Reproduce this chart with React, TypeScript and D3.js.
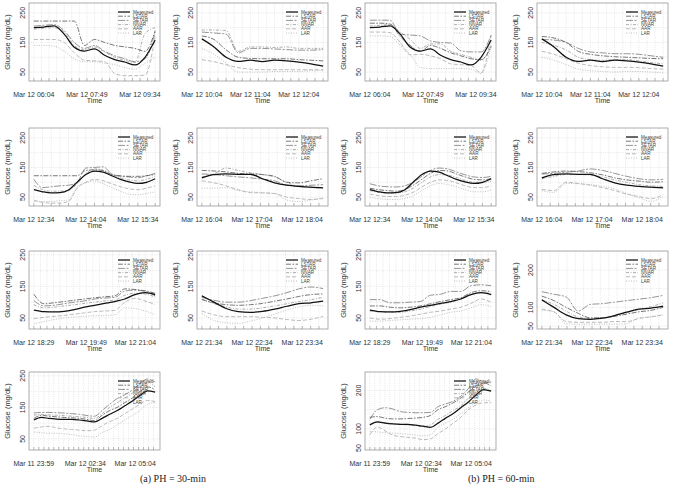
import * as d3 from "d3";

const seriesNames = ["Measured", "LSTAR", "SETAR", "NNAR", "AAR", "LAR"];

// time windows, minutes from window start
const windowDurations = [240, 150, 210, 145, 185, 145, 365];
const windowTickMinutes = [
  [0, 105, 210],
  [0, 60, 120],
  [0, 90, 180],
  [0, 60, 120],
  [0, 80, 155],
  [0, 60, 120],
  [0, 155, 305],
];
const windowTickLabels = [
  ["Mar 12 06:04", "Mar 12 07:49", "Mar 12 09:34"],
  ["Mar 12 10:04", "Mar 12 11:04", "Mar 12 12:04"],
  ["Mar 12 12:34", "Mar 12 14:04", "Mar 12 15:34"],
  ["Mar 12 16:04", "Mar 12 17:04", "Mar 12 18:04"],
  ["Mar 12 18:29", "Mar 12 19:49", "Mar 12 21:04"],
  ["Mar 12 21:34", "Mar 12 22:34", "Mar 12 23:34"],
  ["Mar 11 23:59", "Mar 12 02:34", "Mar 12 05:04"],
];
const windowMinorStep = [15, 10, 15, 10, 10, 10, 15];

// measured glucose (same for both horizons)
const measured1 = [200, 202, 206, 178, 134, 121, 128, 107, 92, 84, 74, 100, 158];
const measured2 = [162, 135, 100, 86, 90, 85, 90, 88, 84, 78, 70];
const measured3 = [75, 68, 64, 65, 74, 100, 126, 138, 134, 122, 110, 101, 96, 100, 112];
const measured4 = [115, 126, 128, 127, 127, 112, 98, 90, 86, 84, 81];
const measured5 = [75, 70, 69, 71, 76, 84, 90, 96, 102, 110, 124, 130, 124];
const measured6 = [120, 100, 80, 70, 68, 71, 78, 87, 95, 98, 103];
const measured7 = [110, 118, 115, 113, 112, 112, 110, 107, 104, 115, 128, 140, 155, 170, 188, 202, 198];

// PH = 30-min predictions
const lstar30_1 = [222, 222, 222, 222, 222, 140, 160, 150, 140, 135, 130, 120, 190];
const setar30_1 = [205, 208, 210, 190, 150, 130, 140, 120, 105, 95, 85, 95, 185];
const nnar30_1 = [195, 198, 200, 185, 140, 125, 135, 118, 100, 90, 82, 180, 200];
const aar30_1 = [160, 160, 160, 150, 115, 90, 88, 85, 45, 38, 38, 40, 170];
const lar30_1 = [140, 140, 138, 120, 95, 85, 85, 80, 75, 65, 60, 80, 100];

const lstar30_2 = [172, 160, 125, 100, 96, 95, 95, 95, 92, 90, 88];
const setar30_2 = [185, 182, 178, 115, 130, 130, 128, 126, 124, 124, 126];
const nnar30_2 = [192, 192, 190, 120, 135, 135, 133, 135, 130, 130, 130];
const aar30_2 = [92, 85, 75, 65, 60, 58, 58, 58, 58, 58, 58];
const lar30_2 = [130, 110, 80, 50, 50, 50, 52, 52, 52, 55, 55];

const lstar30_3 = [122, 122, 122, 122, 122, 122, 140, 142, 140, 126, 122, 120, 120, 122, 126];
const setar30_3 = [110, 82, 85, 88, 90, 100, 148, 150, 152, 128, 120, 118, 115, 122, 130];
const nnar30_3 = [90, 75, 70, 70, 72, 95, 130, 145, 140, 125, 115, 108, 105, 110, 120];
const aar30_3 = [40, 32, 30, 30, 35, 80, 100, 110, 105, 95, 85, 78, 75, 80, 88];
const lar30_3 = [35, 35, 35, 38, 40, 85, 98, 105, 95, 82, 70, 60, 58, 62, 68];

const lstar30_4 = [140, 138, 135, 130, 128, 126, 120, 100, 98, 105, 112];
const setar30_4 = [128, 126, 122, 118, 115, 110, 105, 90, 88, 90, 92];
const nnar30_4 = [118, 128, 148, 140, 132, 126, 118, 100, 85, 82, 80];
const aar30_4 = [105, 98, 88, 75, 65, 64, 62, 50, 45, 42, 45];
const lar30_4 = [80, 80, 82, 72, 68, 65, 62, 40, 35, 40, 48];

const lstar30_5 = [125, 95, 98, 102, 106, 110, 114, 117, 120, 142, 140, 136, 128];
const setar30_5 = [105, 88, 90, 95, 100, 104, 110, 113, 115, 135, 138, 134, 120];
const nnar30_5 = [92, 82, 84, 88, 92, 96, 100, 104, 106, 122, 128, 126, 116];
const aar30_5 = [48, 52, 55, 58, 62, 66, 70, 72, 74, 100, 112, 104, 92];
const lar30_5 = [32, 38, 45, 50, 53, 55, 57, 58, 60, 82, 80, 72, 60];

const lstar30_6 = [108, 98, 92, 90, 92, 96, 103, 110, 118, 124, 126];
const setar30_6 = [115, 106, 100, 100, 105, 112, 120, 130, 142, 148, 143];
const nnar30_6 = [110, 95, 85, 78, 78, 82, 88, 95, 102, 108, 115];
const aar30_6 = [72, 60, 54, 54, 54, 52, 50, 45, 42, 46, 55];
const lar30_6 = [65, 42, 35, 33, 40, 50, 62, 75, 85, 90, 88];

const lstar30_7 = [115, 125, 122, 120, 118, 117, 115, 112, 108, 125, 140, 150, 165, 180, 200, 215, 205];
const setar30_7 = [132, 134, 134, 133, 132, 130, 128, 124, 122, 140, 160, 178, 190, 205, 225, 240, 230];
const nnar30_7 = [125, 128, 126, 125, 124, 122, 120, 118, 115, 130, 150, 165, 180, 195, 215, 230, 215];
const aar30_7 = [84, 88, 90, 85, 82, 80, 78, 76, 78, 92, 105, 115, 130, 145, 160, 172, 168];
const lar30_7 = [72, 70, 68, 68, 66, 64, 60, 58, 56, 70, 80, 95, 110, 125, 140, 160, 165];

// PH = 60-min predictions
const lstar60_1 = [215, 215, 212, 170, 140, 120, 140, 130, 115, 105, 95, 92, 135];
const setar60_1 = [225, 225, 225, 178, 175, 172, 155, 150, 148, 122, 118, 118, 175];
const nnar60_1 = [205, 208, 210, 185, 160, 130, 145, 145, 120, 110, 100, 90, 140];
const aar60_1 = [185, 185, 183, 150, 108, 110, 105, 95, 78, 75, 72, 48, 175];
const lar60_1 = [172, 172, 170, 140, 110, 65, 62, 62, 62, 62, 60, 45, 140];

const lstar60_2 = [170, 165, 150, 120, 110, 105, 102, 100, 98, 96, 95];
const setar60_2 = [160, 158, 150, 130, 118, 115, 112, 112, 110, 105, 100];
const nnar60_2 = [150, 140, 125, 100, 92, 90, 92, 92, 88, 82, 78];
const aar60_2 = [120, 110, 95, 80, 72, 68, 66, 66, 65, 62, 60];
const lar60_2 = [100, 90, 75, 60, 55, 52, 50, 52, 52, 50, 48];

const lstar60_3 = [80, 75, 72, 70, 75, 90, 110, 130, 140, 138, 128, 118, 110, 108, 112];
const setar60_3 = [95, 88, 85, 84, 88, 100, 120, 140, 148, 145, 135, 125, 118, 116, 120];
const nnar60_3 = [72, 66, 64, 64, 68, 80, 100, 118, 126, 124, 116, 106, 100, 100, 104];
const aar60_3 = [60, 55, 52, 52, 56, 66, 84, 100, 108, 106, 98, 88, 82, 82, 88];
const lar60_3 = [50, 45, 42, 42, 45, 55, 72, 88, 96, 92, 85, 75, 68, 68, 74];

const lstar60_4 = [130, 135, 138, 136, 132, 125, 115, 108, 104, 100, 102];
const setar60_4 = [128, 130, 134, 138, 145, 140, 130, 120, 112, 108, 110];
const nnar60_4 = [112, 120, 126, 126, 124, 118, 108, 100, 92, 88, 86];
const aar60_4 = [76, 72, 100, 96, 90, 82, 72, 60, 52, 45, 58];
const lar60_4 = [72, 66, 96, 95, 92, 86, 78, 62, 48, 36, 52];

const lstar60_5 = [88, 88, 84, 82, 84, 88, 95, 102, 108, 114, 130, 136, 134];
const setar60_5 = [108, 108, 98, 98, 100, 102, 122, 125, 134, 134, 152, 155, 152];
const nnar60_5 = [72, 70, 68, 68, 72, 78, 86, 94, 100, 110, 125, 130, 128];
const aar60_5 = [50, 46, 48, 52, 56, 62, 68, 72, 78, 84, 96, 110, 100];
const lar60_5 = [40, 40, 42, 44, 46, 48, 52, 60, 68, 72, 82, 92, 86];

const lstar60_6 = [130, 118, 100, 84, 72, 72, 76, 82, 88, 92, 100];
const setar60_6 = [142, 135, 128, 90, 108, 110, 114, 118, 122, 126, 132];
const nnar60_6 = [120, 108, 90, 74, 70, 72, 78, 86, 94, 102, 112];
const aar60_6 = [95, 88, 62, 60, 60, 60, 62, 62, 70, 75, 80];
const lar60_6 = [92, 88, 56, 55, 55, 55, 55, 56, 72, 74, 80];

const lstar60_7 = [130, 132, 128, 126, 126, 127, 128, 130, 135, 150, 158, 168, 180, 196, 212, 218, 222];
const setar60_7 = [125, 150, 155, 152, 145, 143, 142, 142, 143, 158, 165, 172, 185, 205, 230, 222, 212];
const nnar60_7 = [112, 118, 116, 114, 112, 110, 108, 106, 110, 125, 135, 148, 160, 180, 195, 205, 200];
const aar60_7 = [85, 105, 95, 84, 80, 78, 76, 72, 74, 88, 100, 115, 130, 150, 162, 168, 168];
const lar60_7 = [94, 92, 90, 89, 88, 86, 84, 82, 85, 105, 115, 125, 140, 155, 168, 175, 172];

// y axis limits and labelled ticks per panel
const yLimDefault = [20, 283];
const yLimLow = [15, 262];
const yLabelsA = [50, 150, 250];
const yLabelsB = [50, 100, 200];

const measured = [measured1, measured2, measured3, measured4, measured5, measured6, measured7];
const ph30 = [
  [lstar30_1, setar30_1, nnar30_1, aar30_1, lar30_1],
  [lstar30_2, setar30_2, nnar30_2, aar30_2, lar30_2],
  [lstar30_3, setar30_3, nnar30_3, aar30_3, lar30_3],
  [lstar30_4, setar30_4, nnar30_4, aar30_4, lar30_4],
  [lstar30_5, setar30_5, nnar30_5, aar30_5, lar30_5],
  [lstar30_6, setar30_6, nnar30_6, aar30_6, lar30_6],
  [lstar30_7, setar30_7, nnar30_7, aar30_7, lar30_7],
];
const ph60 = [
  [lstar60_1, setar60_1, nnar60_1, aar60_1, lar60_1],
  [lstar60_2, setar60_2, nnar60_2, aar60_2, lar60_2],
  [lstar60_3, setar60_3, nnar60_3, aar60_3, lar60_3],
  [lstar60_4, setar60_4, nnar60_4, aar60_4, lar60_4],
  [lstar60_5, setar60_5, nnar60_5, aar60_5, lar60_5],
  [lstar60_6, setar60_6, nnar60_6, aar60_6, lar60_6],
  [lstar60_7, setar60_7, nnar60_7, aar60_7, lar60_7],
];

const ph30Lims = [yLimDefault, yLimDefault, yLimDefault, yLimDefault, yLimLow, yLimLow, yLimLow];
const ph60Lims = [yLimDefault, yLimDefault, yLimDefault, yLimDefault, yLimLow, [42, 251], [45, 248]];
const ph30YLabels = [yLabelsA, yLabelsA, yLabelsA, yLabelsA, yLabelsA, yLabelsA, yLabelsA];
const ph60YLabels = [yLabelsA, yLabelsA, yLabelsA, yLabelsA, yLabelsA, yLabelsB, yLabelsB];

// layout
const colW = 131;
const rowH = 78;
const colLeft = [29, 197, 365, 537];
const rowTop = [3, 128, 251, 372];
const font = "Liberation Sans, Arial, sans-serif";

const lineStyles = [
  { color: "#111", width: 1.25, dash: "" },
  { color: "#555", width: 0.8, dash: "5,1.5,1.5,1.5" },
  { color: "#7a7a7a", width: 0.8, dash: "7,1.5,2,1.5" },
  { color: "#999", width: 0.8, dash: "3,1.5,1,1.5" },
  { color: "#aaa", width: 0.8, dash: "4,2" },
  { color: "#b0b0b0", width: 0.8, dash: "1,1.5" },
];

function Panel({ id, win, col, row, yLim, yLabels, series }) {
  const x0 = colLeft[col];
  const y0 = rowTop[row];
  const dur = windowDurations[win];
  const padX = (colW * 0.04) / 1.08;
  const x = d3.scaleLinear().domain([0, dur]).range([x0 + padX, x0 + colW - padX]);
  const y = d3.scaleLinear().domain(yLim).range([y0 + rowH, y0]);
  const minor = d3.range(0, dur + 0.01, windowMinorStep[win]);
  const hGrid = d3.range(50, 301, 50).filter((v) => v > yLim[0] && v < yLim[1]);
  const clipId = `clip-${id}`;

  const lineFor = (vals) => {
    const step = dur / (vals.length - 1);
    return d3
      .line()
      .x((d, i) => x(i * step))
      .y((d) => y(d))
      .curve(d3.curveMonotoneX)(vals);
  };

  const order = [5, 4, 3, 2, 1, 0];
  const cx = x0 + colW / 2;
  const yb = y0 + rowH;

  return (
    <g>
      <defs>
        <clipPath id={clipId}>
          <rect x={x0} y={y0} width={colW} height={rowH} />
        </clipPath>
      </defs>
      {minor.map((m) => (
        <g key={"m" + m}>
          <line x1={x(m)} x2={x(m)} y1={y0} y2={yb} stroke="#d8d8d8" strokeWidth={0.6} strokeDasharray="1,1.2" />
          <line x1={x(m)} x2={x(m)} y1={yb - 3} y2={yb} stroke="#888" strokeWidth={0.6} />
        </g>
      ))}
      {hGrid.map((v) => (
        <line key={"h" + v} x1={x0} x2={x0 + colW} y1={y(v)} y2={y(v)} stroke="#d8d8d8" strokeWidth={0.6} strokeDasharray="1,1.2" />
      ))}
      <g clipPath={`url(#${clipId})`}>
        {order.map((k) => (
          <path
            key={k}
            d={lineFor(series[k])}
            fill="none"
            stroke={lineStyles[k].color}
            strokeWidth={lineStyles[k].width}
            strokeDasharray={lineStyles[k].dash}
          />
        ))}
      </g>
      <rect x={x0} y={y0} width={colW} height={rowH} fill="none" stroke="#999" strokeWidth={0.8} />
      {yLabels.map((v) => (
        <text
          key={"yl" + v}
          transform={`translate(${x0 - 4},${y(v)}) rotate(-90)`}
          textAnchor="middle"
          fontSize={7}
          fontFamily={font}
          fill="#333"
        >
          {v}
        </text>
      ))}
      <text
        transform={`translate(${x0 - 19},${y0 + rowH / 2}) rotate(-90)`}
        textAnchor="middle"
        fontSize={7.5}
        fontFamily={font}
        fill="#333"
      >
        Glucose (mg/dL)
      </text>
      {windowTickMinutes[win].map((m, i) => (
        <text key={"xl" + m} x={x(m)} y={yb + 16} textAnchor="middle" fontSize={7} fontFamily={font} fill="#333">
          {windowTickLabels[win][i]}
        </text>
      ))}
      <text x={cx} y={yb + 21.5} textAnchor="middle" fontSize={7} fontFamily={font} fill="#333">
        Time
      </text>
      {seriesNames.map((name, k) => {
        const ly = y0 + 9 + k * 4.2;
        const lx = x0 + colW;
        return (
          <g key={name}>
            <line
              x1={lx - 42}
              x2={lx - 30}
              y1={ly}
              y2={ly}
              stroke={lineStyles[k].color}
              strokeWidth={lineStyles[k].width}
              strokeDasharray={lineStyles[k].dash}
            />
            <text x={lx - 27} y={ly + 1.6} fontSize={4.6} fontFamily={font} fill="#444">
              {name}
            </text>
          </g>
        );
      })}
    </g>
  );
}

const slots = [
  [0, 0],
  [0, 1],
  [1, 0],
  [1, 1],
  [2, 0],
  [2, 1],
  [3, 0],
];

export default function App() {
  const panels = [];
  slots.forEach(([row, c], w) => {
    panels.push({
      id: `a${w}`,
      win: w,
      col: c,
      row,
      yLim: ph30Lims[w],
      yLabels: ph30YLabels[w],
      series: [measured[w], ...ph30[w]],
    });
    panels.push({
      id: `b${w}`,
      win: w,
      col: c + 2,
      row,
      yLim: ph60Lims[w],
      yLabels: ph60YLabels[w],
      series: [measured[w], ...ph60[w]],
    });
  });
  return (
    <svg
      width={675}
      height={487}
      style={{ position: "absolute", left: 0, top: 0, background: "#fff" }}
    >
      {panels.map((p) => (
        <Panel key={p.id} {...p} />
      ))}
      <text x={140} y={482} fontSize={10} fontFamily="Liberation Serif, Times New Roman, serif" fill="#222">
        (a) PH = 30-min
      </text>
      <text x={468} y={482} fontSize={10} fontFamily="Liberation Serif, Times New Roman, serif" fill="#222">
        (b) PH = 60-min
      </text>
    </svg>
  );
}
